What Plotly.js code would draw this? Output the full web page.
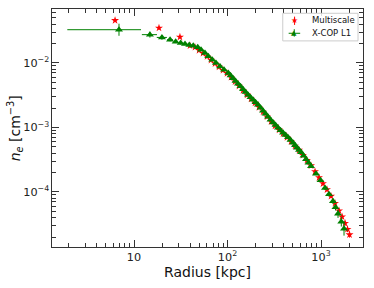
<!DOCTYPE html>
<html>
<head>
<meta charset="utf-8">
<script src="https://cdn.plot.ly/plotly-3.0.1.min.js"></script>
<style>html,body{margin:0;padding:0;background:#fff;}#chart{width:374px;height:288px;}</style>
</head>
<body>
<div id="chart"></div>
<script>
// Multiscale (red stars): radius [kpc], density [cm^-3], fractional y-error
const msR = [6.27, 18.5, 31.0, 39.7, 44.9, 49.6, 54.7, 60.4, 66.6, 73.5, 81.1, 89.5, 98.8, 109.0, 120.3, 132.7, 146.5, 161.7, 178.4, 196.9, 217.3, 239.9, 264.7, 292.1, 322.3, 355.7, 392.6, 433.0, 477.8, 527.2, 582.1, 641.7, 707.9, 781.6, 862.7, 952.1, 1050, 1159, 1279, 1412, 1558, 1679, 1807, 1919, 2018];
const msNe = [0.0457, 0.0349, 0.0253, 0.01853, 0.01758, 0.01577, 0.01419, 0.01262, 0.01113, 0.00982, 0.00870, 0.00773, 0.00690, 0.00602, 0.00513, 0.00440, 0.00375, 0.00320, 0.00277, 0.00240, 0.00206, 0.00174, 0.00147, 0.00124, 0.00106, 0.000918, 0.000801, 0.000705, 0.000607, 0.000517, 0.000445, 0.000372, 0.000311, 0.000256, 0.000207, 0.000167, 0.000135, 0.000109, 8.61e-5, 6.70e-5, 5.13e-5, 4.14e-5, 3.28e-5, 2.65e-5, 2.18e-5];
const msErr = [0.05, 0.05, 0.05, 0.04, 0.04, 0.04, 0.04, 0.04, 0.04, 0.04, 0.04, 0.04, 0.04, 0.04, 0.04, 0.04, 0.04, 0.04, 0.04, 0.04, 0.04, 0.04, 0.04, 0.04, 0.04, 0.04, 0.04, 0.04, 0.04, 0.04, 0.04, 0.04, 0.05, 0.05, 0.05, 0.05, 0.06, 0.06, 0.07, 0.07, 0.08, 0.08, 0.09, 0.10, 0.10];

// X-COP L1 (green triangles): radius [kpc], density [cm^-3], fractional errors
const xcR = [6.91, 14.8, 19.9, 24.3, 27.9, 31.6, 35.1, 39.0, 43.0, 48.0, 52.1, 57.4, 62.3, 68.7, 75.3, 83.2, 91.8, 102, 107.9, 114.5, 121.8, 129.4, 137.7, 146.5, 155.8, 165.6, 176.2, 187.5, 199.3, 211.8, 225.4, 239.9, 254.9, 271.0, 288.4, 306.8, 326.3, 346.7, 368.8, 392.6, 417.2, 443.6, 471.9, 502.3, 527.2, 553.6, 581.9, 610.9, 650.0, 691.8, 735.0, 781.6, 885.1, 988.5, 1104, 1218, 1343, 1429, 1520, 1648, 1762];
const xcNe = [0.0328, 0.0275, 0.0249, 0.0230, 0.0214, 0.0204, 0.0197, 0.0190, 0.0185, 0.0175, 0.0161, 0.0143, 0.0127, 0.0112, 0.0100, 0.00886, 0.00787, 0.00700, 0.00638, 0.00581, 0.00528, 0.00478, 0.00434, 0.00393, 0.00356, 0.00323, 0.00295, 0.00270, 0.00247, 0.00226, 0.00203, 0.00182, 0.00164, 0.00147, 0.00132, 0.00119, 0.00109, 0.000993, 0.000908, 0.000830, 0.000765, 0.000708, 0.000642, 0.000581, 0.000532, 0.000486, 0.000449, 0.000414, 0.000365, 0.000323, 0.000285, 0.000251, 0.000192, 0.000152, 0.000115, 9.25e-5, 7.20e-5, 5.81e-5, 4.61e-5, 3.47e-5, 2.70e-5];
const xcErrYPlus = [0.24, 0.11, 0.08, 0.06, 0.05, 0.05,
  0.04, 0.04, 0.04, 0.04, 0.04, 0.04, 0.04, 0.04, 0.04, 0.04, 0.04, 0.04, 0.04, 0.04, 0.04, 0.04, 0.04, 0.04, 0.04, 0.04, 0.04, 0.04,
  0.04, 0.04, 0.04, 0.04, 0.04, 0.04, 0.04, 0.04, 0.04, 0.04, 0.04, 0.04, 0.04, 0.04, 0.04, 0.04, 0.04, 0.04, 0.04, 0.04, 0.04, 0.04,
  0.05, 0.05, 0.05, 0.06, 0.07, 0.08, 0.10, 0.12, 0.15, 0.18, 0.30];
const xcErrYMinus = [0.195, 0.10, 0.08, 0.06, 0.05, 0.05,
  0.04, 0.04, 0.04, 0.04, 0.04, 0.04, 0.04, 0.04, 0.04, 0.04, 0.04, 0.04, 0.04, 0.04, 0.04, 0.04, 0.04, 0.04, 0.04, 0.04, 0.04, 0.04,
  0.04, 0.04, 0.04, 0.04, 0.04, 0.04, 0.04, 0.04, 0.04, 0.04, 0.04, 0.04, 0.04, 0.04, 0.04, 0.04, 0.04, 0.04, 0.04, 0.04, 0.04, 0.04,
  0.05, 0.05, 0.05, 0.06, 0.07, 0.08, 0.10, 0.11, 0.14, 0.16, 0.22];
const xcErrXPlus = [0.72, 0.19, 0.13, 0.07, 0.04, 0.04, 0.04,
  0.03, 0.03, 0.03, 0.03, 0.03, 0.03, 0.03, 0.03, 0.03, 0.03, 0.03, 0.03, 0.03, 0.03, 0.03, 0.03, 0.03, 0.03, 0.03, 0.03, 0.03, 0.03, 0.03, 0.03, 0.03, 0.03, 0.03,
  0.03, 0.03, 0.03, 0.03, 0.03, 0.03, 0.03, 0.03, 0.03, 0.03, 0.03, 0.03, 0.03, 0.03, 0.03, 0.03, 0.03, 0.03, 0.03, 0.03, 0.03, 0.03, 0.03, 0.03, 0.03, 0.03, 0.03];
const xcErrXMinus = [0.72, 0.18, 0.12, 0.07, 0.04, 0.04, 0.04,
  0.03, 0.03, 0.03, 0.03, 0.03, 0.03, 0.03, 0.03, 0.03, 0.03, 0.03, 0.03, 0.03, 0.03, 0.03, 0.03, 0.03, 0.03, 0.03, 0.03, 0.03, 0.03, 0.03, 0.03, 0.03, 0.03, 0.03,
  0.03, 0.03, 0.03, 0.03, 0.03, 0.03, 0.03, 0.03, 0.03, 0.03, 0.03, 0.03, 0.03, 0.03, 0.03, 0.03, 0.03, 0.03, 0.03, 0.03, 0.03, 0.03, 0.03, 0.03, 0.03, 0.03, 0.03];

const legendNames = ['Multiscale', 'X-COP L1'];
const xTitle = 'Radius [kpc]';
const yTitle = '<i>n</i><sub><i>e</i></sub> [cm<sup>−3</sup>]';

const mul = (a, f) => a.map((v, i) => v * f[i]);

const RED = '#ff0000', GREEN = '#008000', AX = '#333333';
const FONT = 'DejaVu Sans, sans-serif';

const traces = [
  {
    x: msR, y: msNe, name: legendNames[0], type: 'scatter', mode: 'markers',
    marker: {symbol: 'star', size: 6, color: RED, line: {width: 0}},
    error_y: {type: 'data', array: mul(msNe, msErr), color: RED, thickness: 1, width: 0}
  },
  {
    x: xcR, y: xcNe, name: legendNames[1], type: 'scatter', mode: 'markers',
    marker: {symbol: 'triangle-up', size: 7, color: GREEN, line: {width: 0}},
    error_y: {type: 'data', symmetric: false, array: mul(xcNe, xcErrYPlus), arrayminus: mul(xcNe, xcErrYMinus), color: GREEN, thickness: 1, width: 0},
    error_x: {type: 'data', symmetric: false, array: mul(xcR, xcErrXPlus), arrayminus: mul(xcR, xcErrXMinus), color: GREEN, thickness: 1, width: 0}
  }
];

const axisCommon = {
  type: 'log', dtick: 1, exponentformat: 'power', showgrid: false, zeroline: false,
  showline: true, linecolor: AX, linewidth: 1, mirror: 'allticks',
  ticks: 'inside', ticklen: 7, tickwidth: 1, tickcolor: AX,
  tickfont: {family: FONT, size: 9, color: '#222'},
  minor: {ticks: 'inside', ticklen: 4, tickwidth: 1, tickcolor: AX, showgrid: false}
};

// hand-drawn legend box (paper coordinates)
const shapes = [
  {type: 'rect', xref: 'paper', yref: 'paper', x0: 0.742, x1: 0.984, y0: 0.866, y1: 0.982,
   line: {color: '#cccccc', width: 1}, fillcolor: 'rgba(255,255,255,0.85)', layer: 'above'},
  {type: 'line', xref: 'paper', yref: 'paper', x0: 0.780, x1: 0.780, y0: 0.933, y1: 0.968,
   line: {color: RED, width: 1}, layer: 'above'},
  {type: 'line', xref: 'paper', yref: 'paper', x0: 0.761, x1: 0.798, y0: 0.898, y1: 0.898,
   line: {color: GREEN, width: 1}, layer: 'above'},
  {type: 'line', xref: 'paper', yref: 'paper', x0: 0.779, x1: 0.779, y0: 0.884, y1: 0.915,
   line: {color: GREEN, width: 1}, layer: 'above'}
];
const annotations = [
  {xref: 'paper', yref: 'paper', x: 0.780, y: 0.951, text: '★', showarrow: false,
   xanchor: 'center', yanchor: 'middle', font: {family: FONT, size: 8, color: RED}},
  {xref: 'paper', yref: 'paper', x: 0.779, y: 0.900, text: '▲', showarrow: false,
   xanchor: 'center', yanchor: 'middle', font: {family: FONT, size: 7, color: GREEN}},
  {xref: 'paper', yref: 'paper', x: 0.830, y: 0.953, text: legendNames[0], showarrow: false,
   xanchor: 'left', yanchor: 'middle', font: {family: FONT, size: 8.5, color: '#111'}},
  {xref: 'paper', yref: 'paper', x: 0.830, y: 0.899, text: legendNames[1], showarrow: false,
   xanchor: 'left', yanchor: 'middle', font: {family: FONT, size: 8.5, color: '#111'}},
  // axis titles
  {xref: 'paper', yref: 'paper', x: 0.5, y: -0.104, text: xTitle, showarrow: false, borderpad: 0,
   xanchor: 'center', yanchor: 'middle', font: {family: FONT, size: 14, color: '#111'}},
  {xref: 'paper', yref: 'paper', x: -0.118, y: 0.5, text: yTitle, showarrow: false, textangle: -90, borderpad: 0,
   xanchor: 'center', yanchor: 'middle', font: {family: FONT, size: 14, color: '#111'}}
];

const layout = {
  width: 374, height: 288,
  margin: {l: 52, r: 11, t: 9, b: 41},
  paper_bgcolor: '#fff', plot_bgcolor: '#fff',
  font: {family: FONT, color: '#111'},
  showlegend: false,
  shapes: shapes,
  annotations: annotations,
  xaxis: Object.assign({}, axisCommon, {range: [0.123, 3.449]}),
  yaxis: Object.assign({}, axisCommon, {range: [-4.853, -1.163]})
};

Plotly.newPlot('chart', traces, layout, {displayModeBar: false, staticPlot: true});
</script>
</body>
</html>
